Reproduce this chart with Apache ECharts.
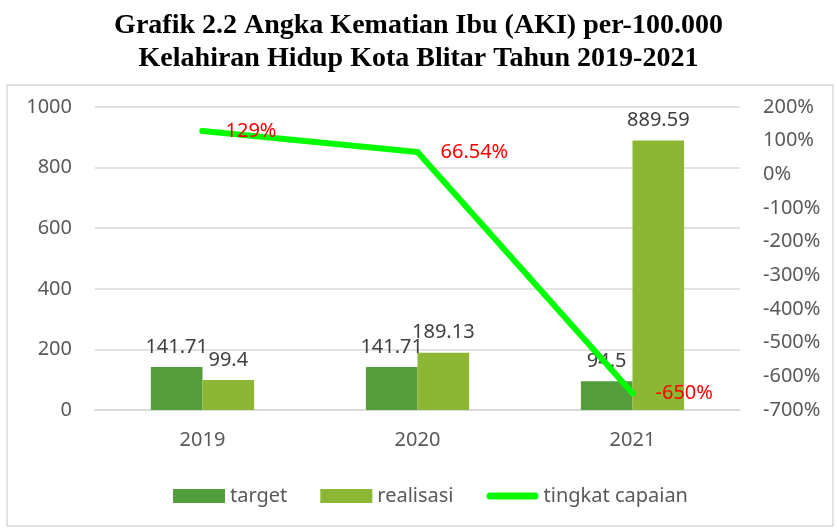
<!DOCTYPE html>
<html>
<head>
<meta charset="utf-8">
<script src="https://cdn.jsdelivr.net/npm/echarts@6/dist/echarts.min.js"></script>
<style>
    html, body { margin: 0; padding: 0; background: #fff; }
    #chart { width: 837px; height: 529px; }
</style>
</head>
<body>
<div id="chart"></div>
<script>
var years = ['2019', '2020', '2021'];
var target = [141.71, 141.71, 94.5];
var realisasi = [99.4, 189.13, 889.59];
var capaian = [129, 66.54, -650];

var chart = echarts.init(document.getElementById('chart'));
var labelFont = 'Noto Sans';
// thick rounded line for the legend, padded to the full icon box
var lineIcon = 'path://M0,0 M52,14 M3.5,3.5 L48.5,3.5 A3.5,3.5 0 0 1 48.5,10.5 L3.5,10.5 A3.5,3.5 0 0 1 3.5,3.5 Z';
var option = {
    title: {
        text: 'Grafik 2.2 Angka Kematian Ibu (AKI) per-100.000\nKelahiran Hidup Kota Blitar Tahun 2019-2021',
        left: 'center',
        top: 4,
        textStyle: {
            fontFamily: 'Liberation Serif',
            fontWeight: 'bold',
            fontSize: 28,
            lineHeight: 33,
            color: '#000'
        }
    },
    graphic: [
        {
            type: 'rect',
            shape: { x: 7, y: 85, width: 826, height: 441 },
            style: { fill: 'none', stroke: '#d9d9d9', lineWidth: 1.5 },
            silent: true
        }
    ],
    legend: {
        bottom: 18,
        left: 168,
        itemWidth: 52,
        itemHeight: 14,
        itemGap: 33,
        textStyle: { fontFamily: labelFont, fontSize: 20, color: '#595959' },
        data: [
            { name: 'target', icon: 'rect' },
            { name: 'realisasi', icon: 'rect' },
            { name: 'tingkat capaian', icon: lineIcon }
        ]
    },
    grid: {
        left: 95,
        right: 97,
        top: 107,
        bottom: 119
    },
    xAxis: {
        type: 'category',
        data: years,
        axisTick: { show: false },
        axisLine: { lineStyle: { color: '#d9d9d9', width: 1.5 } },
        axisLabel: { fontFamily: labelFont, fontSize: 20, color: '#595959', margin: 20 }
    },
    yAxis: [
        {
            type: 'value',
            min: 0,
            max: 1000,
            interval: 200,
            axisLine: { show: false },
            axisTick: { show: false },
            splitLine: { lineStyle: { color: '#d9d9d9', width: 1.5 } },
            axisLabel: {
                fontFamily: labelFont, fontSize: 20, color: '#595959', margin: 23,
                formatter: function (v) { return String(v); }
            }
        },
        {
            type: 'value',
            min: -700,
            max: 200,
            interval: 100,
            axisLine: { show: false },
            axisTick: { show: false },
            splitLine: { show: false },
            axisLabel: {
                fontFamily: labelFont, fontSize: 20, color: '#595959', margin: 23,
                formatter: '{value}%'
            }
        }
    ],
    series: [
        {
            name: 'target',
            type: 'bar',
            data: target,
            barGap: '0%',
            barCategoryGap: '52%',
            itemStyle: { color: '#539d3b' },
            label: {
                show: true,
                position: 'top',
                distance: 10,
                fontFamily: labelFont,
                fontSize: 20,
                color: '#404040'
            }
        },
        {
            name: 'realisasi',
            type: 'bar',
            data: realisasi,
            itemStyle: { color: '#8bb734' },
            label: {
                show: true,
                position: 'top',
                distance: 10,
                fontFamily: labelFont,
                fontSize: 20,
                color: '#404040'
            }
        },
        {
            name: 'tingkat capaian',
            type: 'line',
            yAxisIndex: 1,
            data: capaian,
            symbol: 'circle',
            symbolSize: 6,
            itemStyle: { color: '#00ff00' },
            lineStyle: { color: '#00ff00', width: 6, cap: 'round', join: 'round' },
            label: {
                show: true,
                position: 'right',
                distance: 20,
                fontFamily: labelFont,
                fontSize: 20,
                color: '#ff0000',
                formatter: function (p) { return p.value + '%'; }
            },
            z: 5
        }
    ]
};
chart.setOption(option);
</script>
</body>
</html>
